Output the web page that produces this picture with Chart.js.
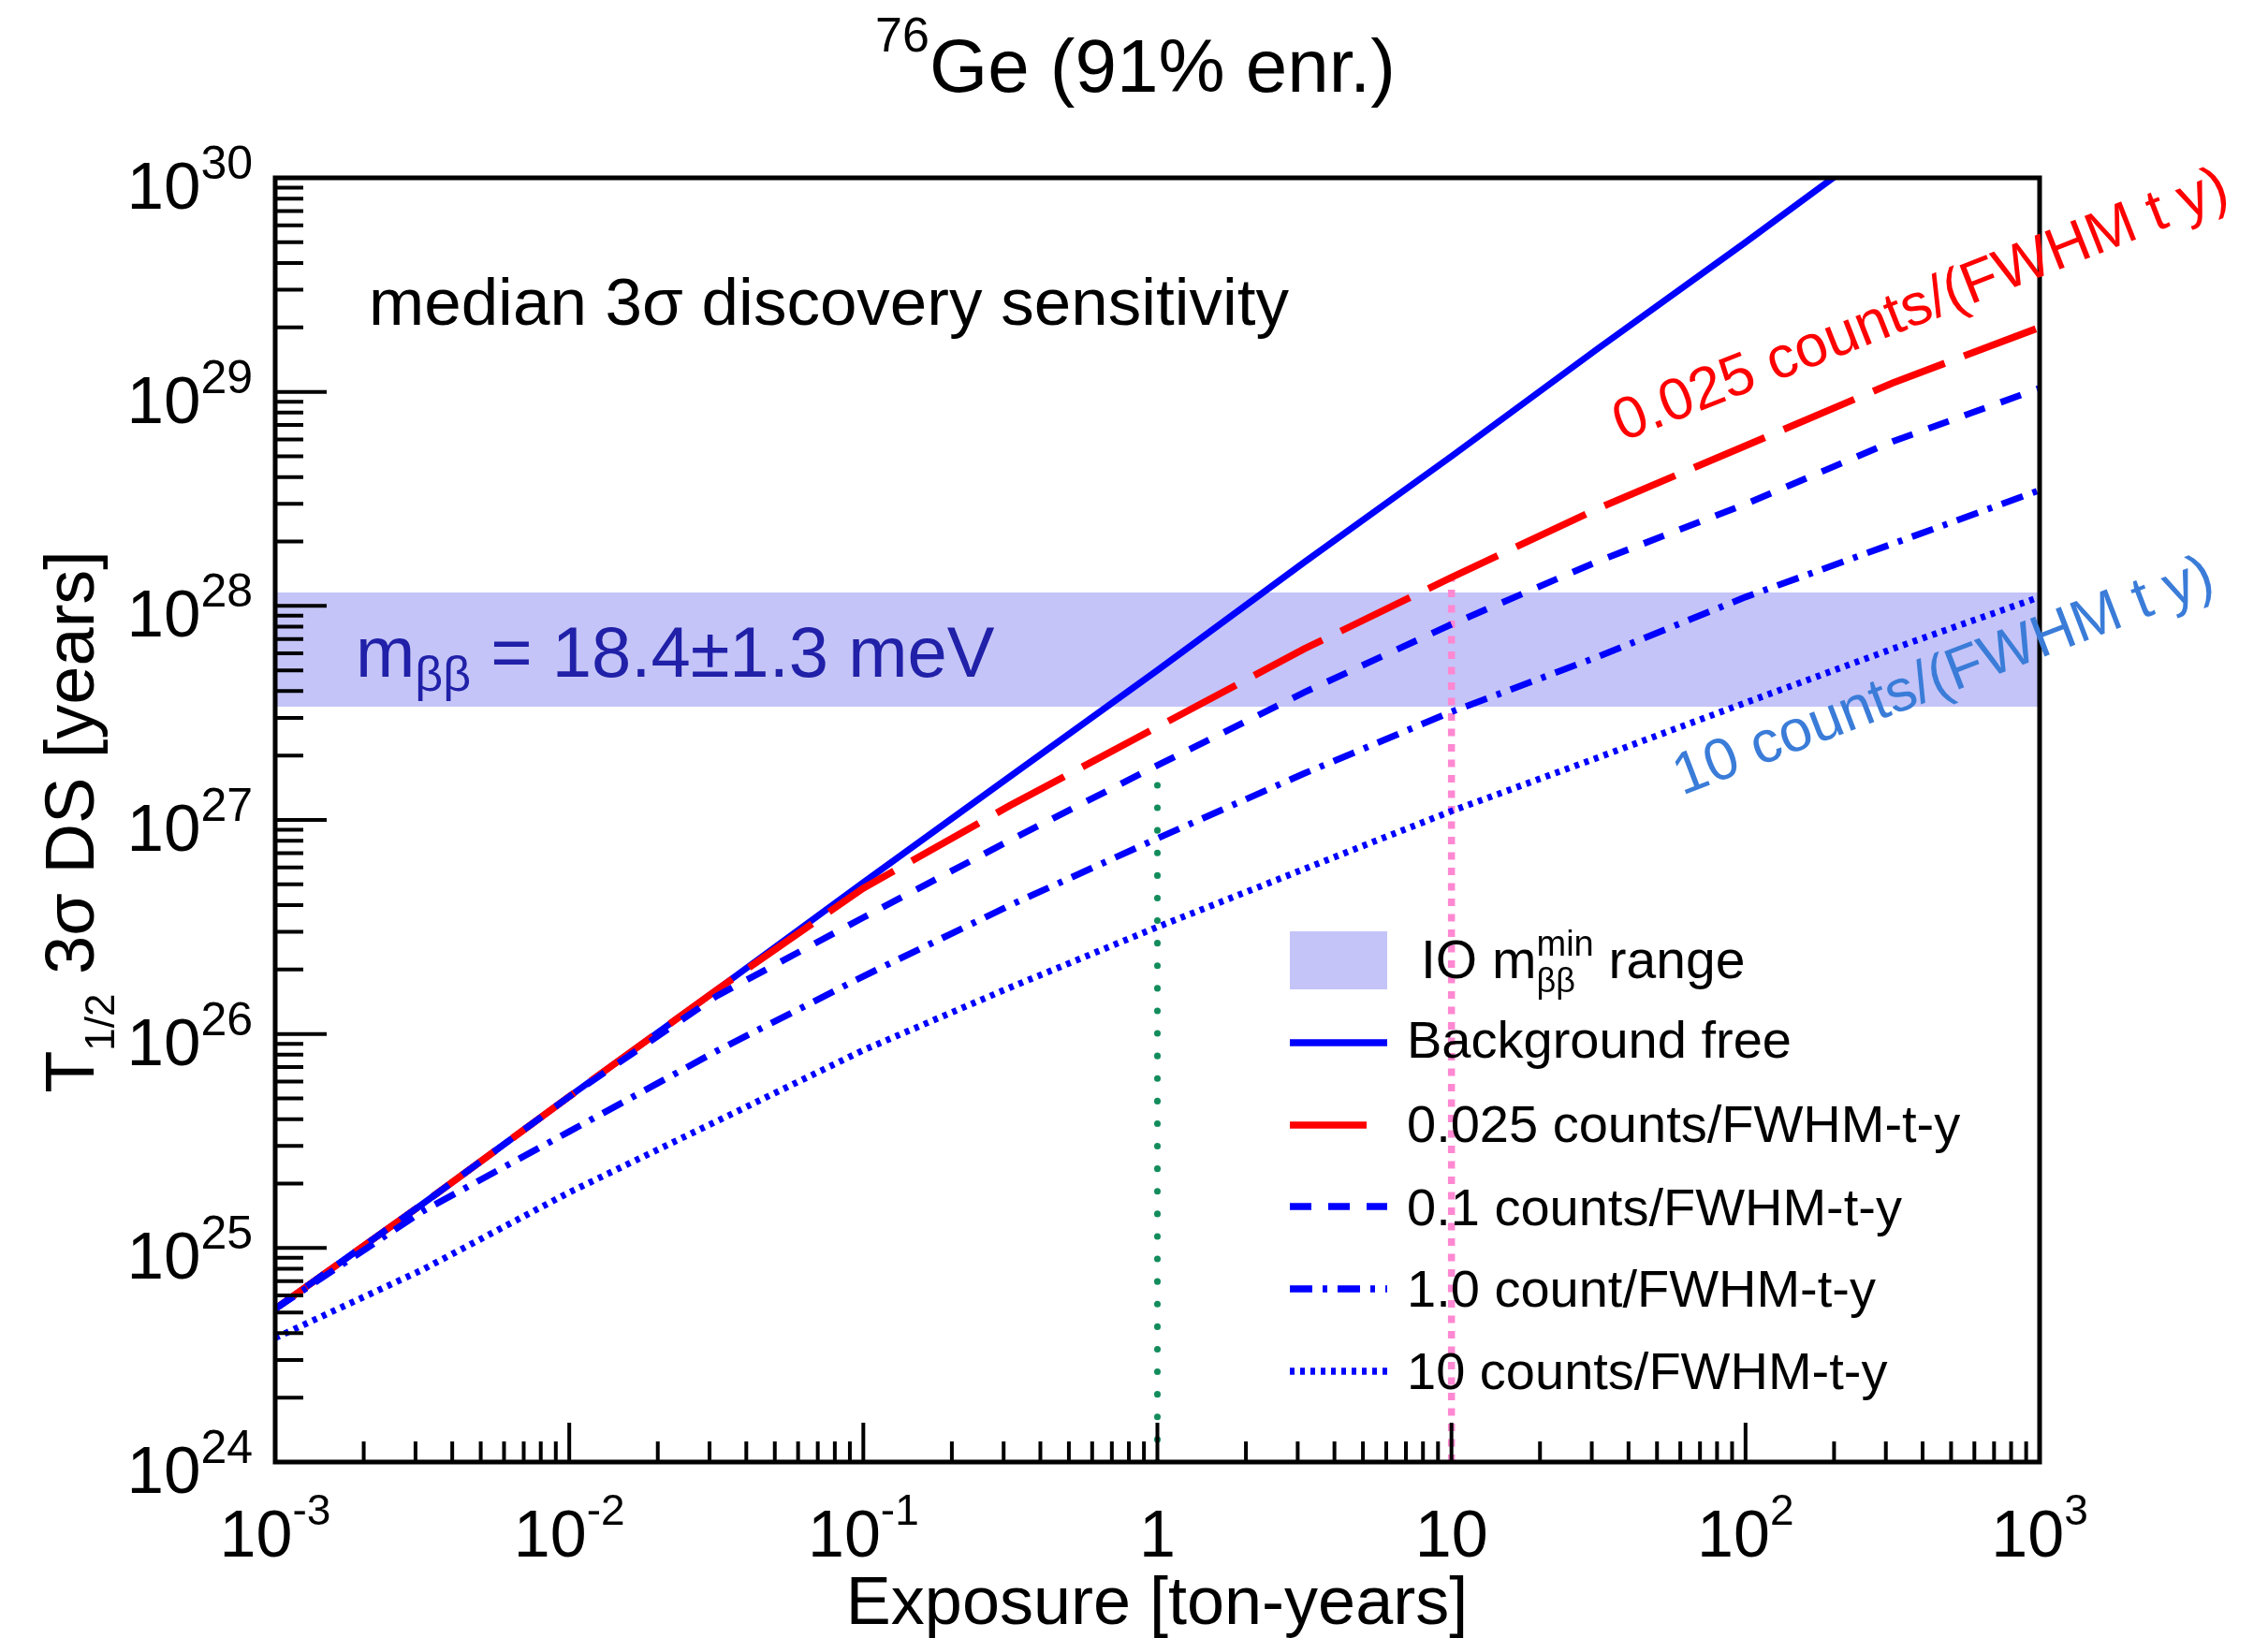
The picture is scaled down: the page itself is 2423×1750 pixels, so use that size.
<!DOCTYPE html>
<html>
<head>
<meta charset="utf-8">
<title>76Ge discovery sensitivity</title>
<script src="https://cdn.jsdelivr.net/npm/chart.js@4.4.1/dist/chart.umd.min.js"></script>
<style>
    html, body { margin: 0; padding: 0; background: #fff; }
    canvas { display: block; }
</style>
</head>
<body>
<canvas id="chart" width="2423" height="1750"></canvas>
<script>
// Values (exposure in ton-years, T1/2 in years)
const exposure = [0.001, 0.00316, 0.01, 0.0316, 0.1, 0.316, 1, 3.16, 10, 31.6, 100, 316, 1000]
const bgFree = [5.2e24, 1.6e25, 5.1e25, 1.6e26, 5.1e26, 1.6e27, 5.0e27, 1.6e28, 5.0e28, 1.6e29, 5.0e29, 1.6e30, null]
const bkg0025 = [5.2e24, 1.6e25, 5.1e25, 1.6e26, 4.8e26, 1.17e27, 2.72e27, 6.3e27, 1.36e28, 2.86e28, 5.6e28, 1.1e29, 2.0e29]
const bkg01 = [5.2e24, 1.6e25, 5.1e25, 1.5e26, 3.5e26, 8.05e26, 1.8e27, 3.95e27, 8.2e27, 1.62e28, 2.99e28, 5.86e28, 1.04e29]
const bkg1 = [5.2e24, 1.48e25, 3.5e25, 8.3e25, 1.86e26, 4.0e26, 8.2e26, 1.65e27, 3.2e27, 5.8e27, 1.1e28, 1.95e28, 3.47e28]
const bkg10 = [3.8e24, 7.9e24, 1.82e25, 3.9e25, 8.4e25, 1.65e26, 3.16e26, 5.9e26, 1.1e27, 1.96e27, 3.53e27, 6.3e27, 1.1e28]

// IO m_bb band (18.4 +- 1.3 meV)
const bandExposure = [0.001, 1000]
const bandLow = [3.38e27, 3.38e27]
const bandHigh = [1.156e28, 1.156e28]

// vertical guide lines at 1 and 10 ton-years
const guideExposure = [1, 10]
const guideFloor = [1e24, 1e24]
const guideTop = [1.75e27, 1.36e28]

// tick labels: [mantissa, exponent]
const xTickLabels = [["10", "-3"], ["10", "-2"], ["10", "-1"], ["1", ""], ["10", ""], ["10", "2"], ["10", "3"]]
const xTickExp = [-3, -2, -1, 0, 1, 2, 3]
const yTickLabels = [["10", "24"], ["10", "25"], ["10", "26"], ["10", "27"], ["10", "28"], ["10", "29"], ["10", "30"]]
const yTickExp = [24, 25, 26, 27, 28, 29, 30]

const FONT = '"Liberation Sans", Arial, Helvetica, sans-serif'
const BAND_COLOR = "rgb(196, 196, 248)"

function font(size) {
    return size + "px " + FONT
}

function pairs(xs, ys) {
    return xs.map((x, i) => ({ x: x, y: ys[i] }))
}

function measureParts(ctx, parts) {
    let w = 0
    parts.forEach((p) => {
        ctx.font = font(p.size)
        w += ctx.measureText(p.t).width
    })
    return w
}

// draw text pieces one after another, with optional baseline shift
function drawParts(ctx, parts, x, y) {
    ctx.textAlign = "left"
    parts.forEach((p) => {
        ctx.font = font(p.size)
        ctx.fillText(p.t, x, y + (p.dy || 0))
        x += ctx.measureText(p.t).width
    })
    return x
}

const curveStyles = [
    { label: "Background free", data: bgFree, dash: [], width: 7, color: "#0000ff", order: 5 },
    { label: "0.025 counts/FWHM-t-y", data: bkg0025, dash: [82, 22], width: 7.5, color: "#ff0000", order: 4 },
    { label: "0.1 counts/FWHM-t-y", data: bkg01, dash: [23, 18], width: 7, color: "#0000ff", order: 3 },
    { label: "1.0 count/FWHM-t-y", data: bkg1, dash: [24, 11, 5, 11], width: 7, color: "#0000ff", order: 2 },
    { label: "10 counts/FWHM-t-y", data: bkg10, dash: [5, 6], width: 7, color: "#0000ff", order: 1 },
]

const datasets = curveStyles.map((s) => ({
    label: s.label,
    data: pairs(exposure, s.data),
    borderColor: s.color,
    borderWidth: s.width,
    borderDash: s.dash,
    borderCapStyle: "butt",
    pointRadius: 0,
    tension: 0,
    fill: false,
    order: s.order,
}))

// guides
datasets.push({
    label: "1 t-y",
    data: pairs([guideExposure[0], guideExposure[0]], [guideFloor[0], guideTop[0]]),
    borderColor: "#138c5c",
    borderWidth: 7,
    borderDash: [0.1, 24],
    borderCapStyle: "round",
    pointRadius: 0,
    fill: false,
    order: 6,
})
datasets.push({
    label: "10 t-y",
    data: pairs([guideExposure[1], guideExposure[1]], [guideFloor[1], guideTop[1]]),
    borderColor: "#ff88d2",
    borderWidth: 7.5,
    borderDash: [8, 8.5],
    borderCapStyle: "butt",
    pointRadius: 0,
    fill: false,
    order: 7,
})

// band: upper edge filled down to the lower edge (next dataset)
datasets.push({
    label: "IO band high",
    data: pairs(bandExposure, bandHigh),
    borderWidth: 0,
    borderColor: "rgba(0,0,0,0)",
    backgroundColor: BAND_COLOR,
    pointRadius: 0,
    fill: "+1",
    order: 9,
})
datasets.push({
    label: "IO band low",
    data: pairs(bandExposure, bandLow),
    borderWidth: 0,
    borderColor: "rgba(0,0,0,0)",
    pointRadius: 0,
    fill: false,
    order: 10,
})

// ROOT-like frame, inward ticks, labels, annotations and legend
const rootStyle = {
    id: "rootStyle",
    afterDatasetsDraw(chart) {
        const { ctx, chartArea: a, scales } = chart
        const xs = scales.x
        const ys = scales.y
        ctx.save()

        // ticks
        ctx.strokeStyle = "#000"
        ctx.lineWidth = 4
        ctx.lineCap = "butt"
        ctx.beginPath()
        for (let k = 24; k <= 30; k++) {
            for (let m = 1; m <= 9; m++) {
                const v = m * Math.pow(10, k)
                if (v > 1.0001e30) break
                const py = ys.getPixelForValue(v)
                ctx.moveTo(a.left, py)
                ctx.lineTo(a.left + (m === 1 ? 55 : 30), py)
            }
        }
        for (let k = -3; k <= 3; k++) {
            for (let m = 1; m <= 9; m++) {
                const v = m * Math.pow(10, k)
                if (v > 1000.1) break
                const px = xs.getPixelForValue(v)
                ctx.moveTo(px, a.bottom)
                ctx.lineTo(px, a.bottom - (m === 1 ? 42 : 22))
            }
        }
        ctx.stroke()

        // frame
        ctx.lineWidth = 5
        ctx.strokeRect(a.left, a.top, a.right - a.left, a.bottom - a.top)

        ctx.fillStyle = "#000"
        ctx.textBaseline = "alphabetic"

        // y tick labels, right aligned
        yTickExp.forEach((k, i) => {
            const py = ys.getPixelForValue(Math.pow(10, k))
            const [base, sup] = yTickLabels[i]
            ctx.font = font(50)
            const supW = ctx.measureText(sup).width
            ctx.textAlign = "left"
            ctx.fillText(sup, 270 - supW, py + 1)
            ctx.font = font(71)
            ctx.textAlign = "right"
            ctx.fillText(base, 270 - supW, py + 33)
        })

        // x tick labels, centred
        xTickExp.forEach((k, i) => {
            const px = xs.getPixelForValue(Math.pow(10, k))
            const [base, sup] = xTickLabels[i]
            const parts = [{ t: base, size: 70 }, { t: sup, size: 46, dy: -34 }]
            const w = measureParts(ctx, parts)
            drawParts(ctx, parts, px - w / 2, 1663)
        })

        // axis titles
        ctx.font = font(72)
        ctx.textAlign = "center"
        ctx.fillText("Exposure [ton-years]", 1236, 1735)

        ctx.save()
        ctx.translate(100, 878)
        ctx.rotate(-Math.PI / 2)
        const yTitle = [{ t: "T", size: 74 }, { t: "1/2", size: 44, dy: 22 }, { t: " 3σ DS [years]", size: 74 }]
        drawParts(ctx, yTitle, -measureParts(ctx, yTitle) / 2, 0)
        ctx.restore()

        // title
        const title = [{ t: "76", size: 52, dy: -43 }, { t: "Ge (91% enr.)", size: 80 }]
        drawParts(ctx, title, 1213 - measureParts(ctx, title) / 2, 98)

        // annotations
        ctx.font = font(71)
        ctx.textAlign = "left"
        ctx.fillText("median 3σ discovery sensitivity", 394, 347)

        ctx.fillStyle = "#2020a8"
        drawParts(ctx, [{ t: "m", size: 76 }, { t: "ββ", size: 52, dy: 15 }, { t: " = 18.4±1.3 meV", size: 76 }], 380, 723)

        ctx.save()
        ctx.translate(1733, 472)
        ctx.rotate(-21.5 * Math.PI / 180)
        ctx.fillStyle = "#ff0000"
        ctx.font = font(63)
        ctx.fillText("0.025 counts/(FWHM t y)", 0, 0)
        ctx.restore()

        ctx.save()
        ctx.translate(1797, 850)
        ctx.rotate(-21 * Math.PI / 180)
        ctx.fillStyle = "rgb(58, 124, 216)"
        ctx.font = font(63)
        ctx.fillText("10 counts/(FWHM t y)", 0, 0)
        ctx.restore()

        // legend
        const lx0 = 1378
        const lx1 = 1482
        ctx.fillStyle = BAND_COLOR
        ctx.fillRect(lx0, 995, lx1 - lx0, 62)

        ctx.fillStyle = "#000"
        let tx = drawParts(ctx, [{ t: "IO m", size: 57 }], 1518, 1045)
        ctx.font = font(38)
        ctx.fillText("min", tx, 1021)
        const stackW = ctx.measureText("min").width
        ctx.font = font(36)
        ctx.fillText("ββ", tx, 1060)
        drawParts(ctx, [{ t: " range", size: 57 }], tx + stackW, 1045)

        const rowLine = [1114, 1202, 1289, 1377, 1465]
        const rowText = [1130, 1220, 1309, 1396, 1484]
        curveStyles.forEach((s, i) => {
            ctx.strokeStyle = s.color
            ctx.lineWidth = 7.5
            ctx.setLineDash(s.dash)
            ctx.beginPath()
            ctx.moveTo(lx0, rowLine[i])
            ctx.lineTo(lx1, rowLine[i])
            ctx.stroke()
            ctx.setLineDash([])
            ctx.fillStyle = "#000"
            ctx.font = font(56)
            ctx.textAlign = "left"
            ctx.fillText(s.label, 1503, rowText[i])
        })

        ctx.restore()
    },
}

new Chart(document.getElementById("chart"), {
    type: "line",
    data: { datasets: datasets },
    options: {
        responsive: false,
        animation: false,
        devicePixelRatio: 1,
        layout: { padding: { left: 294, right: 244, top: 190, bottom: 188 } },
        plugins: {
            legend: { display: false },
            tooltip: { enabled: false },
        },
        scales: {
            x: { type: "logarithmic", min: 0.001, max: 1000, display: false },
            y: { type: "logarithmic", min: 1e24, max: 1e30, display: false },
        },
    },
    plugins: [rootStyle],
})
</script>
</body>
</html>
